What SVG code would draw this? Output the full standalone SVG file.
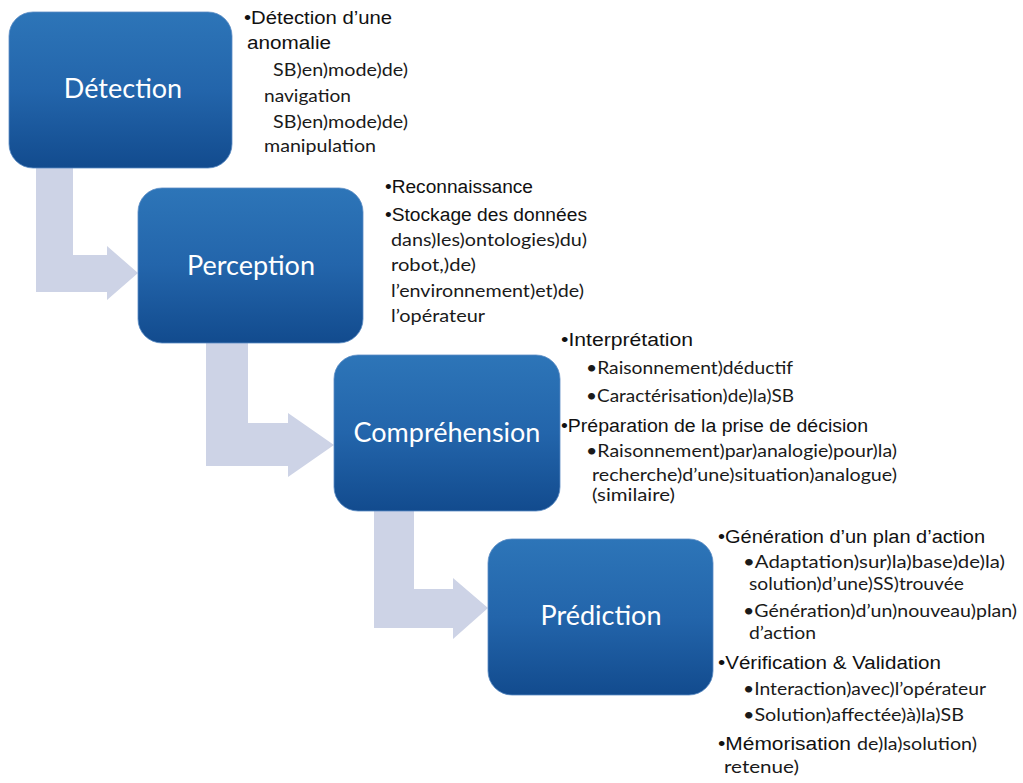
<svg xmlns="http://www.w3.org/2000/svg" width="1023" height="783" viewBox="0 0 1023 783">
<defs>
<linearGradient id="boxGrad" x1="0" y1="0" x2="0" y2="1">
<stop offset="0" stop-color="#2d75b8"/>
<stop offset="0.5" stop-color="#2365ab"/>
<stop offset="1" stop-color="#124b8e"/>
</linearGradient>
<style>
.box{fill:url(#boxGrad);stroke:#5b8cc4;stroke-width:0.8}
.lbl{font-family:Lato,"Open Sans",sans-serif;font-size:27px;fill:#ffffff;text-anchor:middle}
.arrow{fill:#cdd3e6}
.b1{font-family:"Liberation Sans",Arial,sans-serif;font-size:18px;fill:#111111}
.b2{font-family:Lato,"Open Sans",sans-serif;font-size:16.5px;fill:#1a1a1a}
</style>
</defs>
<rect width="1023" height="783" fill="#ffffff"/>
<g id="connectors">
<polygon class="arrow" points="36,160 73,160 73,255 107,255 107,246 138,273 107,300 107,292 36,292"/>
<polygon class="arrow" points="206,335 248,335 248,423 288,423 288,413 334,445 288,477 288,466 206,466"/>
<polygon class="arrow" points="374,503 414,503 414,589 453,589 453,578 488,608 453,639 453,628 374,628"/>
</g>
<g id="detection">
<rect class="box" x="9" y="12" width="223" height="156" rx="24"/>
<text class="lbl" x="123" y="98">Détection</text>
<text class="b1" x="244" y="24" textLength="148" lengthAdjust="spacingAndGlyphs">•Détection d’une</text>
<text class="b1" x="247" y="49" textLength="84" lengthAdjust="spacingAndGlyphs">anomalie</text>
<text class="b2" x="273" y="76" textLength="135" lengthAdjust="spacingAndGlyphs">SB)en)mode)de)</text>
<text class="b2" x="264" y="102" textLength="87" lengthAdjust="spacingAndGlyphs">navigation</text>
<text class="b2" x="273" y="128" textLength="135" lengthAdjust="spacingAndGlyphs">SB)en)mode)de)</text>
<text class="b2" x="264" y="152" textLength="112" lengthAdjust="spacingAndGlyphs">manipulation</text>
</g>
<g id="perception">
<rect class="box" x="138" y="188" width="225" height="155" rx="24"/>
<text class="lbl" x="251" y="275">Perception</text>
<text class="b1" x="385" y="193" textLength="148" lengthAdjust="spacingAndGlyphs">•Reconnaissance</text>
<text class="b1" x="385" y="221" textLength="202" lengthAdjust="spacingAndGlyphs">•Stockage des données</text>
<text class="b2" x="391" y="246" textLength="196" lengthAdjust="spacingAndGlyphs">dans)les)ontologies)du)</text>
<text class="b2" x="391" y="271" textLength="85" lengthAdjust="spacingAndGlyphs">robot,)de)</text>
<text class="b2" x="391" y="297" textLength="193" lengthAdjust="spacingAndGlyphs">l’environnement)et)de)</text>
<text class="b2" x="391" y="322" textLength="94" lengthAdjust="spacingAndGlyphs">l’opérateur</text>
</g>
<g id="comprehension">
<rect class="box" x="334" y="355" width="226" height="156" rx="24"/>
<text class="lbl" x="447" y="442">Compréhension</text>
<text class="b1" x="561" y="346" textLength="132" lengthAdjust="spacingAndGlyphs">•Interprétation</text>
<text class="b2" x="586" y="374" textLength="207" lengthAdjust="spacingAndGlyphs">•Raisonnement)déductif</text>
<text class="b2" x="586" y="402" textLength="208" lengthAdjust="spacingAndGlyphs">•Caractérisation)de)la)SB</text>
<text class="b1" x="561" y="432" textLength="307" lengthAdjust="spacingAndGlyphs">•Préparation de la prise de décision</text>
<text class="b2" x="586" y="457" textLength="311" lengthAdjust="spacingAndGlyphs">•Raisonnement)par)analogie)pour)la)</text>
<text class="b2" x="592" y="481" textLength="305" lengthAdjust="spacingAndGlyphs">recherche)d’une)situation)analogue)</text>
<text class="b2" x="592" y="501" textLength="83" lengthAdjust="spacingAndGlyphs">(similaire)</text>
</g>
<g id="prediction">
<rect class="box" x="488" y="539" width="225" height="156" rx="24"/>
<text class="lbl" x="601" y="625">Prédiction</text>
<text class="b1" x="718" y="543" textLength="267" lengthAdjust="spacingAndGlyphs">•Génération d’un plan d’action</text>
<text class="b2" x="743" y="568" textLength="262" lengthAdjust="spacingAndGlyphs">•Adaptation)sur)la)base)de)la)</text>
<text class="b2" x="749" y="590" textLength="215" lengthAdjust="spacingAndGlyphs">solution)d’une)SS)trouvée</text>
<text class="b2" x="743" y="617" textLength="274" lengthAdjust="spacingAndGlyphs">•Génération)d’un)nouveau)plan)</text>
<text class="b2" x="749" y="639" textLength="67" lengthAdjust="spacingAndGlyphs">d’action</text>
<text class="b1" x="718" y="669" textLength="223" lengthAdjust="spacingAndGlyphs">•Vérification &amp; Validation</text>
<text class="b2" x="743" y="695" textLength="243" lengthAdjust="spacingAndGlyphs">•Interaction)avec)l’opérateur</text>
<text class="b2" x="743" y="721" textLength="221" lengthAdjust="spacingAndGlyphs">•Solution)affectée)à)la)SB</text>
<text class="b1" x="718" y="750" textLength="133" lengthAdjust="spacingAndGlyphs">•Mémorisation</text>
<text class="b2" x="857" y="750" textLength="120" lengthAdjust="spacingAndGlyphs">de)la)solution)</text>
<text class="b2" x="724" y="773" textLength="75" lengthAdjust="spacingAndGlyphs">retenue)</text>
</g>
</svg>
